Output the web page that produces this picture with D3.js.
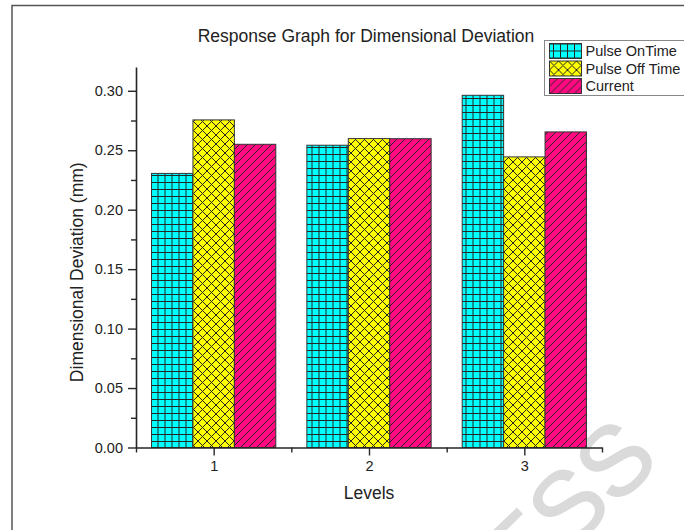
<!DOCTYPE html>
<html>
<head>
<meta charset="utf-8">
<script src="https://cdn.jsdelivr.net/npm/d3@7"></script>
<style>
  html, body { margin: 0; padding: 0; background: #fff; }
  svg { display: block; font-family: "Liberation Sans", Arial, sans-serif; }
</style>
</head>
<body>
<svg id="chart" width="684" height="530"></svg>
<script>
// Response data: mean dimensional deviation (mm) at each factor level
const levels = [1, 2, 3];
const seriesNames = ["Pulse OnTime", "Pulse Off Time", "Current"];
const pulseOnTime = [0.2305, 0.2542, 0.2962];
const pulseOffTime = [0.2755, 0.2598, 0.2444];
const current = [0.2550, 0.2597, 0.2654];
const yTicks = [0.00, 0.05, 0.10, 0.15, 0.20, 0.25, 0.30];
const yMinorTicks = [0.025, 0.075, 0.125, 0.175, 0.225, 0.275];
const xMinorTicks = [0.5, 1.5, 2.5, 3.5];

const seriesValues = [pulseOnTime, pulseOffTime, current];
const fills = ["#00ffff", "#ffff00", "#ff0a80"];
const patternIds = ["pat-grid", "pat-cross", "pat-diag"];

const svg = d3.select("#chart");
const ink = "#262626";

// Hatch patterns for the bar fills
const defs = svg.append("defs");
// square grid
const pg = defs.append("pattern").attr("id", "pat-grid")
  .attr("patternUnits", "userSpaceOnUse").attr("width", 7).attr("height", 7)
  .attr("x", 150.5).attr("y", 0);
pg.append("rect").attr("width", 7).attr("height", 7).attr("fill", fills[0]);
pg.append("path").attr("d", "M0,0.5H7M0.5,0V7")
  .attr("stroke", ink).attr("stroke-width", 1).attr("fill", "none");
// diagonal crosshatch
const pc = defs.append("pattern").attr("id", "pat-cross")
  .attr("patternUnits", "userSpaceOnUse").attr("width", 9).attr("height", 9);
pc.append("rect").attr("width", 9).attr("height", 9).attr("fill", fills[1]);
pc.append("path").attr("d", "M-1,1L1,-1M0,9L9,0M8,10L10,8M-1,8L1,10M0,0L9,9M8,-1L10,1")
  .attr("stroke", ink).attr("stroke-width", 1).attr("fill", "none");
// forward diagonal lines
const pd = defs.append("pattern").attr("id", "pat-diag")
  .attr("patternUnits", "userSpaceOnUse").attr("width", 8).attr("height", 8);
pd.append("rect").attr("width", 8).attr("height", 8).attr("fill", fills[2]);
pd.append("path").attr("d", "M-1,1L1,-1M0,8L8,0M7,9L9,7")
  .attr("stroke", ink).attr("stroke-width", 1).attr("fill", "none");

// Page frame lines
svg.append("path").attr("d", "M12,530V5.5H684")
  .attr("fill", "none").attr("stroke", "#555").attr("stroke-width", 1.5);

// Scales
const plot = { left: 136, right: 602, top: 67, bottom: 447.5 };
const x = d3.scaleLinear().domain([0.5, 3.5]).range([plot.left, plot.right]);
const y = d3.scaleLinear().domain([0, 0.32]).range([plot.bottom, plot.top]);
const groupW = x(1.4) - x(0.6);
const inner = d3.scaleBand().domain(d3.range(seriesNames.length)).range([0, groupW]);

// Watermark, behind the chart
svg.append("text").attr("transform", "translate(662,462) rotate(-44)")
  .attr("text-anchor", "end").attr("font-size", 98).attr("fill", "#dadada")
  .attr("stroke", "#dadada").attr("stroke-width", 1.5)
  .text("PRESS");

// Bars
const barData = [];
levels.forEach((lv, i) => {
  seriesValues.forEach((vals, s) => barData.push({ level: lv, s, v: vals[i] }));
});
svg.append("g").selectAll("rect").data(barData).join("rect")
  .attr("x", d => x(d.level) - groupW / 2 + inner(d.s))
  .attr("y", d => y(d.v))
  .attr("width", inner.bandwidth())
  .attr("height", d => y(0) - y(d.v))
  .attr("fill", d => `url(#${patternIds[d.s]})`)
  .attr("stroke", "#333").attr("stroke-width", 1);

// Axes
function styleAxis(g) {
  g.selectAll("path.domain").attr("stroke", ink).attr("stroke-width", 1.6);
  g.selectAll(".tick line").attr("stroke", ink).attr("stroke-width", 1.4);
  g.selectAll(".tick text").attr("fill", "#222").attr("font-size", 14.5)
    .attr("font-family", "Liberation Sans, Arial, sans-serif");
}
const yAxis = svg.append("g").attr("transform", `translate(${plot.left},0)`)
  .call(d3.axisLeft(y).tickValues(yTicks).tickFormat(d3.format(".2f"))
    .tickSize(8).tickPadding(5).tickSizeOuter(0));
styleAxis(yAxis);
svg.append("g").attr("transform", `translate(${plot.left},0)`)
  .call(d3.axisLeft(y).tickValues(yMinorTicks).tickFormat("").tickSize(5).tickSizeOuter(0))
  .call(g => { g.select("path.domain").remove(); styleAxis(g); });

const xAxis = svg.append("g").attr("transform", `translate(0,${plot.bottom})`)
  .call(d3.axisBottom(x).tickValues(levels).tickFormat(d3.format("d"))
    .tickSize(8).tickPadding(5).tickSizeOuter(0));
styleAxis(xAxis);
svg.append("g").attr("transform", `translate(0,${plot.bottom})`)
  .call(d3.axisBottom(x).tickValues(xMinorTicks).tickFormat("").tickSize(5).tickSizeOuter(0))
  .call(g => { g.select("path.domain").remove(); styleAxis(g); });

// Titles
svg.append("text").attr("x", 366).attr("y", 42).attr("text-anchor", "middle")
  .attr("font-size", 17.5).attr("fill", "#222")
  .text("Response Graph for Dimensional Deviation");
svg.append("text").attr("x", x(2)).attr("y", 499).attr("text-anchor", "middle")
  .attr("font-size", 17.5).attr("fill", "#222").text("Levels");
svg.append("text").attr("transform", `translate(83,${(plot.top + plot.bottom) / 2 + 15}) rotate(-90)`)
  .attr("text-anchor", "middle").attr("font-size", 17.5).attr("fill", "#222")
  .text("Dimensional Deviation (mm)");

// Legend
const legend = svg.append("g").attr("transform", "translate(544.5,40.5)");
legend.append("rect").attr("width", 145).attr("height", 55)
  .attr("fill", "#fff").attr("stroke", "#888").attr("stroke-width", 1);
seriesNames.forEach((name, i) => {
  const row = legend.append("g").attr("transform", `translate(5,${3 + i * 17.5})`);
  row.append("rect").attr("width", 32).attr("height", 15)
    .attr("fill", `url(#${patternIds[i]})`).attr("stroke", "#333").attr("stroke-width", 1);
  row.append("text").attr("x", 36).attr("y", 12.5).attr("font-size", 14.5)
    .attr("fill", "#222").text(name);
});
</script>
</body>
</html>
